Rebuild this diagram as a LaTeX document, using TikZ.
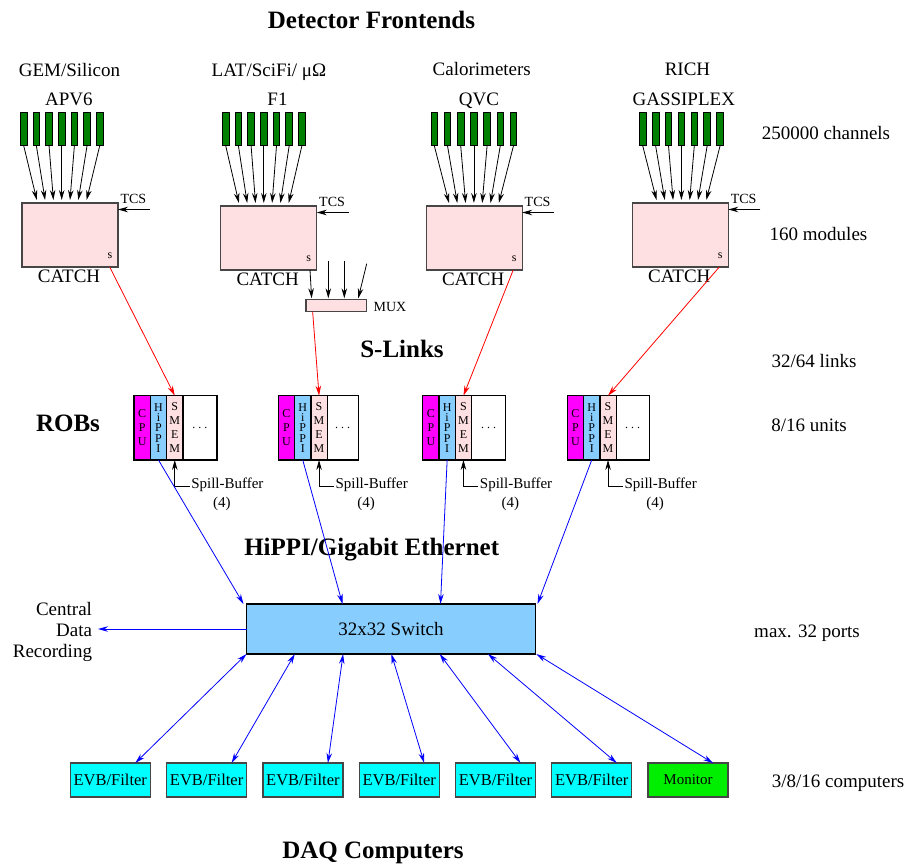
\documentclass[tikz,border=0pt]{standalone}
\usepackage{fontspec}
\setmainfont{Liberation Serif}
\usetikzlibrary{arrows.meta,calc}

\definecolor{catchpink}{RGB}{255,224,226}
\definecolor{chgreen}{RGB}{0,128,0}
\definecolor{cpumag}{RGB}{255,0,255}
\definecolor{hippiblue}{RGB}{135,206,255}
\definecolor{evbcyan}{RGB}{0,255,255}
\definecolor{mongreen}{RGB}{0,238,0}
\definecolor{frame}{RGB}{70,70,70}

\begin{document}
\begin{tikzpicture}[x=1pt,y=-1pt,
  every node/.style={inner sep=0pt,outer sep=0pt},
  lbl/.style={font=\fontsize{19}{21}\selectfont, anchor=base},
  head/.style={font=\fontsize{25}{28}\selectfont\bfseries, anchor=base},
  small/.style={font=\fontsize{14}{16}\selectfont},
  chan/.style={draw=black, line width=0.8pt, fill=chgreen, minimum width=6.7pt, minimum height=33pt},
  catchbox/.style={draw=frame, line width=1.3pt, fill=catchpink, minimum width=96pt, minimum height=64pt},
  muxbox/.style={draw=frame, line width=1.2pt, fill=catchpink, minimum width=60.7pt, minimum height=12.4pt},
  robcol/.style={draw=black, line width=1.2pt, minimum width=16.3pt, minimum height=64.3pt, align=center, font=\fontsize{12}{14}\selectfont},
  switchbox/.style={draw=black, line width=1.2pt, fill=hippiblue, minimum width=289pt, minimum height=50pt, font=\fontsize{19}{21}\selectfont},
  pcbox/.style={draw=frame, line width=1.2pt, fill=evbcyan, minimum width=80pt, minimum height=34pt, font=\fontsize{16.5}{18}\selectfont},
  tip/.style={Stealth[length=10pt,width=5.5pt]},
  feed/.style={-{Stealth[length=10pt,width=5.5pt]}, line width=0.8pt, black},
  slink/.style={-{Stealth[length=10pt,width=5.5pt]}, line width=0.8pt, red},
  netlink/.style={-{Stealth[length=10pt,width=5.5pt]}, line width=0.8pt, blue},
  duplex/.style={{Stealth[length=10pt,width=5.5pt]}-{Stealth[length=10pt,width=5.5pt]}, line width=0.8pt, blue}
]
\useasboundingbox (0,0) rectangle (911,863);

% section headings
\node[head] (hfront) at (371.5,28) {Detector Frontends};
\node[head] (hslink) at (402,357) {S-Links};
\node[head] (hrobs) at (68,431.5) {ROBs};
\node[head] (hnet) at (371.7,555) {HiPPI/Gigabit Ethernet};
\node[head] (hdaq) at (373,858) {DAQ Computers};

% detector names and front-end chips
\node[lbl] (det1) at (69.5,76) {GEM/Silicon};
\node[lbl] (det2) at (269,76) {LAT/SciFi/ μΩ};
\node[lbl] (det3) at (481.8,75) {Calorimeters};
\node[lbl] (det4) at (687.5,75) {RICH};
\node[lbl] (chip1) at (68.8,105) {APV6};
\node[lbl] (chip2) at (277.5,105) {F1};
\node[lbl] (chip3) at (479,105) {QVC};
\node[lbl] (chip4) at (683.8,105) {GASSIPLEX};

% counts on the right
\node[lbl] (n1) at (826,139) {250000 channels};
\node[lbl] (n2) at (818.5,240) {160 modules};
\node[lbl] (n3) at (814,367) {32/64 links};
\node[lbl] (n4) at (809,431) {8/16 units};
\node[lbl] (n5) at (807,637) {max. 32 ports};
\node[lbl] (n6) at (838,787) {3/8/16 computers};

% CATCH modules
\node[catchbox] (cat1) at (70,235) {};
\node[catchbox] (cat2) at (268.7,238) {};
\node[catchbox] (cat3) at (474.2,238) {};
\node[catchbox] (cat4) at (680.3,235) {};

% front-end channels feeding each CATCH
\foreach \g/\x/\d in {1/23.7/12.67, 2/225.7/12.7, 3/434.3/13.2, 4/642.7/12.9} {
  \foreach \k in {0,...,6} {
    \node[chan] (ch\g-\k) at ({\x+\k*\d},129.2) {};
  }
}
\foreach \g in {1,...,4} {
  \foreach \k in {0,...,6} {
    \draw[feed] (ch\g-\k.south) -- ($(ch\g-3.south |- cat\g.north)+({(\k-3)*8.3},-3)$);
  }
  \node[font=\fontsize{12}{12}\selectfont] (s\g) at ($(cat\g.south east)+(-8,-11)$) {s};
  \node[lbl, anchor=north] (cl\g) at ($(cat\g.south)+(-1,3)$) {CATCH};
  \node[small, anchor=base west] (tcs\g) at ($(cat\g.north east)+(2.5,0.5)$) {TCS};
  \coordinate (tin\g) at ($(cat\g.north east)+(32,6.5)$);
  \draw[feed] (tin\g) -- (tin\g -| cat\g.east);
}

% multiplexer below the F1 CATCH
\node[muxbox] (mux) at (336.3,305.5) {};
\node[small, anchor=west] (muxl) at ($(mux.east)+(7,1)$) {MUX};
\draw[feed] ($(cat2.south east)+(-6.7,0)$) -- ($(mux.north west)+(5.7,-1)$);
\coordinate (mi1) at (328.3,260.7);
\coordinate (mi2) at (344.3,260.7);
\coordinate (mi3) at (366.7,263.7);
\draw[feed] (mi1) -- ($(mi1 |- mux.north)+(0,-1)$);
\draw[feed] (mi2) -- ($(mi2 |- mux.north)+(0,-1)$);
\draw[feed] (mi3) -- ($(mux.north west)+(52.3,-1)$);

% readout buffers
\foreach \r/\L/\bw in {1/134/34, 2/278.3/31, 3/422.7/34, 4/567.3/33} {
  \node[robcol, fill=cpumag] (cpu\r) at ({\L+8.15},427.8) {C\\P\\U};
  \node[robcol, fill=hippiblue, font=\fontsize{12}{10.3}\selectfont] (hip\r) at ({\L+24.45},427.8) {H\\i\\P\\P\\I};
  \node[robcol, fill=catchpink] (smem\r) at ({\L+40.75},427.8) {S\\M\\E\\M};
  \node[robcol, fill=white, minimum width=\bw pt] (blank\r) at ({\L+48.9+\bw/2},427.8) {.\hspace{3pt}.\hspace{3pt}.};
  \node[small, anchor=west, font=\fontsize{15}{17}\selectfont] (spill\r) at ({\L+40.75+16.5},485) {Spill-Buffer};
  \node[font=\fontsize{15}{17}\selectfont] (cnt\r) at ({\L+40.75+47},504) {(4)};
  \draw[feed] ($(spill\r.west)+(-1.5,1)$) -- ($(smem\r.south |- spill\r.west)+(0,1)$) -- (smem\r.south);
}

% S-Link fibres
\draw[slink] ($(cat1.south east)+(-8.3,0)$) -- (smem1.north);
\draw[slink] ($(mux.south west)+(6.7,0)$) -- (smem2.north);
\draw[slink] ($(cat3.south east)+(-9,0)$) -- (smem3.north);
\draw[slink] ($(cat4.south east)+(-9,0)$) -- (smem4.north);

% event building network
\node[switchbox] (switch) at (391,629) {32x32 Switch};
\foreach \r/\o in {1/-3, 2/96, 3/194, 4/291} {
  \draw[netlink] (hip\r.south) -- ($(switch.north west)+(\o,0)$);
}
\coordinate (cdr) at (98,629);
\draw[netlink] (switch.west) -- (cdr);
\node[lbl, anchor=east, align=right, font=\fontsize{19}{21}\selectfont] (cdrl) at (92,631.5) {Central\\Data\\Recording};

% DAQ computers
\foreach \k in {0,...,5} {
  \node[pcbox] (pc\k) at ({110.3+\k*96.3},780) {EVB/Filter};
}
\node[pcbox, fill=mongreen, font=\fontsize{15}{17}\selectfont] (pc6) at (688,780) {Monitor};
\foreach \k in {0,...,6} {
  \draw[duplex] ($(switch.south west)+({\k*48.3},0)$) -- ($(pc\k.north west)+(65,0)$);
}
\end{tikzpicture}
\end{document}
